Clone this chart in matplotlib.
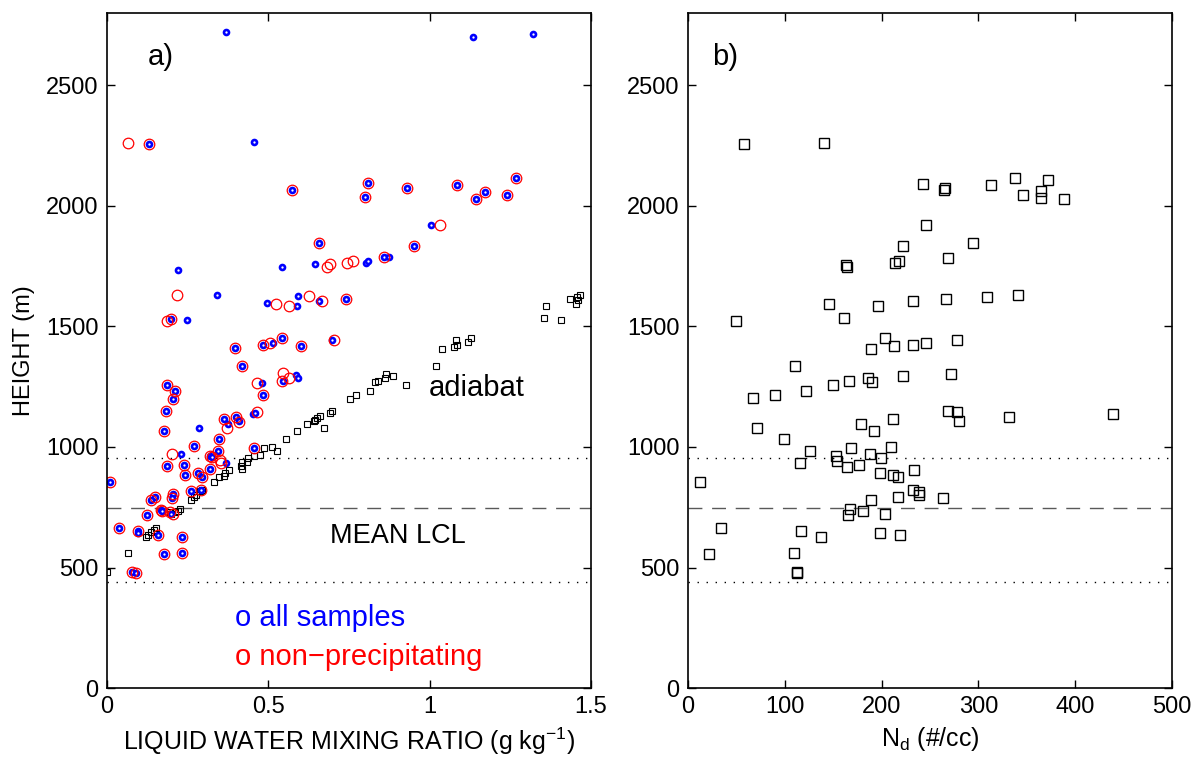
import matplotlib
matplotlib.use("Agg")
import matplotlib.pyplot as plt

plt.rcParams["font.family"] = ["Liberation Sans", "DejaVu Sans"]
plt.rcParams["mathtext.fontset"] = "custom"
plt.rcParams["mathtext.rm"] = "Liberation Sans"
plt.rcParams["mathtext.it"] = "Liberation Sans:italic"

# panel a: all samples (blue)
all_q = [0.369, 0.131, 0.457, 0.574, 0.810, 0.801, 0.656, 0.221, 0.542, 0.646,
         0.803, 0.809, 0.859, 0.874, 0.340, 0.497, 0.590, 0.593, 0.656, 0.741,
         0.198, 0.248, 0.397, 0.483, 0.516, 0.541, 0.602, 0.697, 1.133, 1.320,
         0.930, 1.084, 1.143, 1.171, 1.240, 1.269, 1.003, 0.952, 0.418, 0.186,
         0.212, 0.204, 0.184, 0.178, 0.286, 0.363, 0.374, 0.399, 0.410, 0.346,
         0.269, 0.343, 0.231, 0.319, 0.327, 0.368, 0.187, 0.238, 0.242, 0.281,
         0.294, 0.320, 0.456, 0.454, 0.459, 0.485, 0.482, 0.545, 0.586, 0.593,
         0.009, 0.149, 0.136, 0.206, 0.203, 0.260, 0.292, 0.124, 0.166, 0.172,
         0.200, 0.036, 0.096, 0.096, 0.159, 0.232, 0.178, 0.233, 0.079, 0.090]
all_z = [2722, 2255, 2265, 2067, 2093, 2038, 1847, 1734, 1746, 1757,
         1764, 1772, 1787, 1786, 1631, 1596, 1586, 1625, 1604, 1615,
         1532, 1525, 1410, 1424, 1433, 1453, 1417, 1445, 2702, 2713,
         2075, 2085, 2028, 2056, 2046, 2114, 1920, 1834, 1334, 1258,
         1233, 1201, 1151, 1068, 1078, 1115, 1096, 1126, 1106, 1032,
         1002, 984, 971, 963, 957, 932, 919, 924, 885, 892,
         877, 910, 996, 1138, 1140, 1214, 1266, 1273, 1300, 1286,
         856, 794, 780, 805, 788, 816, 822, 716, 740, 736,
         722, 664, 650, 644, 636, 626, 558, 561, 483, 479]

# panel a: non-precipitating (red)
np_q = [0.064, 0.131, 0.574, 0.810, 0.801, 0.656, 0.682, 0.692, 0.745, 0.764,
        0.859, 0.216, 0.525, 0.563, 0.626, 0.668, 0.741, 0.186, 0.198, 0.397,
        0.483, 0.504, 0.541, 0.602, 0.703, 0.930, 1.084, 1.143, 1.171, 1.240,
        1.269, 1.032, 0.952, 0.418, 0.186, 0.212, 0.204, 0.184, 0.178, 0.363,
        0.372, 0.399, 0.409, 0.346, 0.269, 0.343, 0.203, 0.319, 0.327, 0.351,
        0.354, 0.187, 0.238, 0.242, 0.281, 0.294, 0.320, 0.456, 0.464, 0.485,
        0.464, 0.542, 0.547, 0.565, 0.009, 0.149, 0.136, 0.206, 0.203, 0.260,
        0.292, 0.124, 0.166, 0.172, 0.195, 0.206, 0.036, 0.096, 0.159, 0.232,
        0.178, 0.233, 0.079, 0.090]
np_z = [2262, 2255, 2067, 2093, 2038, 1847, 1747, 1757, 1764, 1773,
        1787, 1631, 1595, 1586, 1625, 1606, 1615, 1523, 1532, 1410,
        1424, 1433, 1453, 1417, 1445, 2075, 2085, 2028, 2056, 2046,
        2114, 1920, 1834, 1334, 1258, 1233, 1201, 1151, 1068, 1115,
        1078, 1126, 1103, 1032, 1002, 984, 971, 963, 957, 946,
        932, 919, 924, 885, 892, 877, 910, 996, 1144, 1214,
        1266, 1273, 1306, 1286, 856, 794, 780, 805, 788, 816,
        822, 716, 740, 736, 729, 724, 664, 650, 636, 626,
        558, 561, 483, 479]

# panel a: adiabatic values (black squares)
ad_q = [0.752, 0.773, 0.816, 0.832, 0.839, 0.862, 0.866, 0.886, 0.928,
        1.021, 1.038, 1.076, 1.084, 1.083, 1.118, 1.128,
        1.356, 1.362, 1.406, 1.434, 1.455, 1.459, 1.465, 1.457,
        0.674, 0.690, 0.696, 0.659, 0.652, 0.645, 0.642, 0.621, 0.590, 0.556,
        0.528, 0.510, 0.487, 0.473, 0.456, 0.438, 0.434, 0.420, 0.416, 0.418,
        0.379, 0.366, 0.362, 0.348, 0.333, 0.295, 0.289, 0.277, 0.270, 0.262,
        0.227, 0.219, 0.211, 0.198, 0.195, 0.153, 0.145, 0.136, 0.128, 0.122,
        0.065, 0.001]
ad_z = [1201, 1214, 1233, 1269, 1272, 1286, 1301, 1293, 1258,
        1334, 1408, 1416, 1424, 1442, 1434, 1452,
        1534, 1586, 1525, 1615, 1595, 1608, 1629, 1622,
        1078, 1142, 1148, 1130, 1121, 1113, 1106, 1096, 1067, 1034,
        982, 1000, 996, 968, 961, 953, 939, 936, 923, 910,
        905, 891, 881, 877, 856, 823, 816, 801, 791, 780,
        741, 733, 729, 722, 729, 664, 655, 647, 636, 628,
        560, 482]

# panel b: droplet number
nd = [12, 22, 34, 71, 67, 90, 99, 111, 122, 50, 58, 141,
      243, 264, 266, 313, 338, 372, 346, 365, 365, 389,
      246, 222, 294, 269, 214, 218, 163, 164,
      146, 196, 232, 161, 267, 309, 341,
      204, 189, 213, 232, 246, 278,
      150, 166, 186, 190, 222, 272,
      179, 192, 212, 269, 278, 280, 332, 439,
      126, 116, 153, 154, 164, 168, 177, 188, 199, 210, 198, 212, 217, 234,
      232, 239, 239, 263, 217, 189, 167, 165, 181, 204, 198, 219, 117, 137,
      110, 113, 113]
nd_z = [855, 558, 664, 1078, 1202, 1214, 1034, 1334, 1233, 1521, 2255, 2262,
        2092, 2068, 2075, 2085, 2114, 2106, 2045, 2063, 2031, 2027,
        1921, 1834, 1847, 1784, 1765, 1772, 1754, 1747,
        1595, 1586, 1604, 1534, 1615, 1622, 1631,
        1452, 1408, 1417, 1424, 1433, 1444,
        1256, 1273, 1286, 1268, 1294, 1301,
        1096, 1065, 1114, 1150, 1144, 1106, 1125, 1135,
        982, 934, 964, 943, 916, 996, 925, 971, 955, 1000, 894, 885, 877, 905,
        822, 812, 802, 787, 793, 778, 743, 718, 734, 724, 643, 636, 651, 626,
        560, 482, 477]

lcl_mean = 745
lcl_lo, lcl_hi = 438, 955
yticks = [0, 500, 1000, 1500, 2000, 2500]

fig = plt.figure(figsize=(11.95, 7.58), dpi=100)
ax1 = fig.add_axes([0.0895, 0.0923, 0.405, 0.8905])
ax2 = fig.add_axes([0.5757, 0.0923, 0.405, 0.8905])

for ax in (ax1, ax2):
    ax.axhline(lcl_hi, color="k", ls=(0, (1, 5.5)), lw=1.0)
    ax.axhline(lcl_lo, color="k", ls=(0, (1, 5.5)), lw=1.0)
    ax.axhline(lcl_mean, color="0.35", ls=(0, (10, 7)), lw=1.0)
    ax.set_ylim(0, 2800)
    ax.set_yticks(yticks)
    ax.tick_params(direction="in", length=6, width=1, labelsize=17,
                   top=True, right=True, pad=6)
    for s in ax.spines.values():
        s.set_linewidth(1.2)

ax1.plot(ad_q, ad_z, "s", ms=4.3, mfc="none", mec="k", mew=0.8)
ax1.plot(all_q, all_z, "o", ms=3.6, mfc="white", mec="blue", mew=1.9)
ax1.plot(np_q, np_z, "o", ms=7.6, mfc="none", mec="red", mew=0.9)
ax1.set_xlim(0, 1.5)
ax1.set_xticks([0, 0.5, 1, 1.5])
ax1.set_xticklabels(["0", "0.5", "1", "1.5"])
ax1.set_xlabel("LIQUID WATER MIXING RATIO (g kg$^{-1}$)", fontsize=18, labelpad=5)
ax1.set_ylabel("HEIGHT (m)", fontsize=17, labelpad=8)
ax1.text(0.085, 0.955, "a)", transform=ax1.transAxes, fontsize=21, va="top")
ax1.text(0.665, 0.432, "adiabat", transform=ax1.transAxes, fontsize=21)
ax1.text(0.46, 0.215, "MEAN LCL", transform=ax1.transAxes, fontsize=19.5)
ax1.text(0.265, 0.092, "o all samples", transform=ax1.transAxes,
         fontsize=21, color="blue")
ax1.text(0.265, 0.034, "o non\u2212precipitating", transform=ax1.transAxes,
         fontsize=21, color="red")

ax2.plot(nd, nd_z, "s", ms=7.2, mfc="none", mec="k", mew=1.0)
ax2.set_xlim(0, 500)
ax2.set_xticks([0, 100, 200, 300, 400, 500])
ax2.set_xlabel("N$_\\mathrm{d}$ (#/cc)", fontsize=18, labelpad=5)
ax2.text(0.05, 0.955, "b)", transform=ax2.transAxes, fontsize=21, va="top")

fig.savefig("out.png", dpi=100)
